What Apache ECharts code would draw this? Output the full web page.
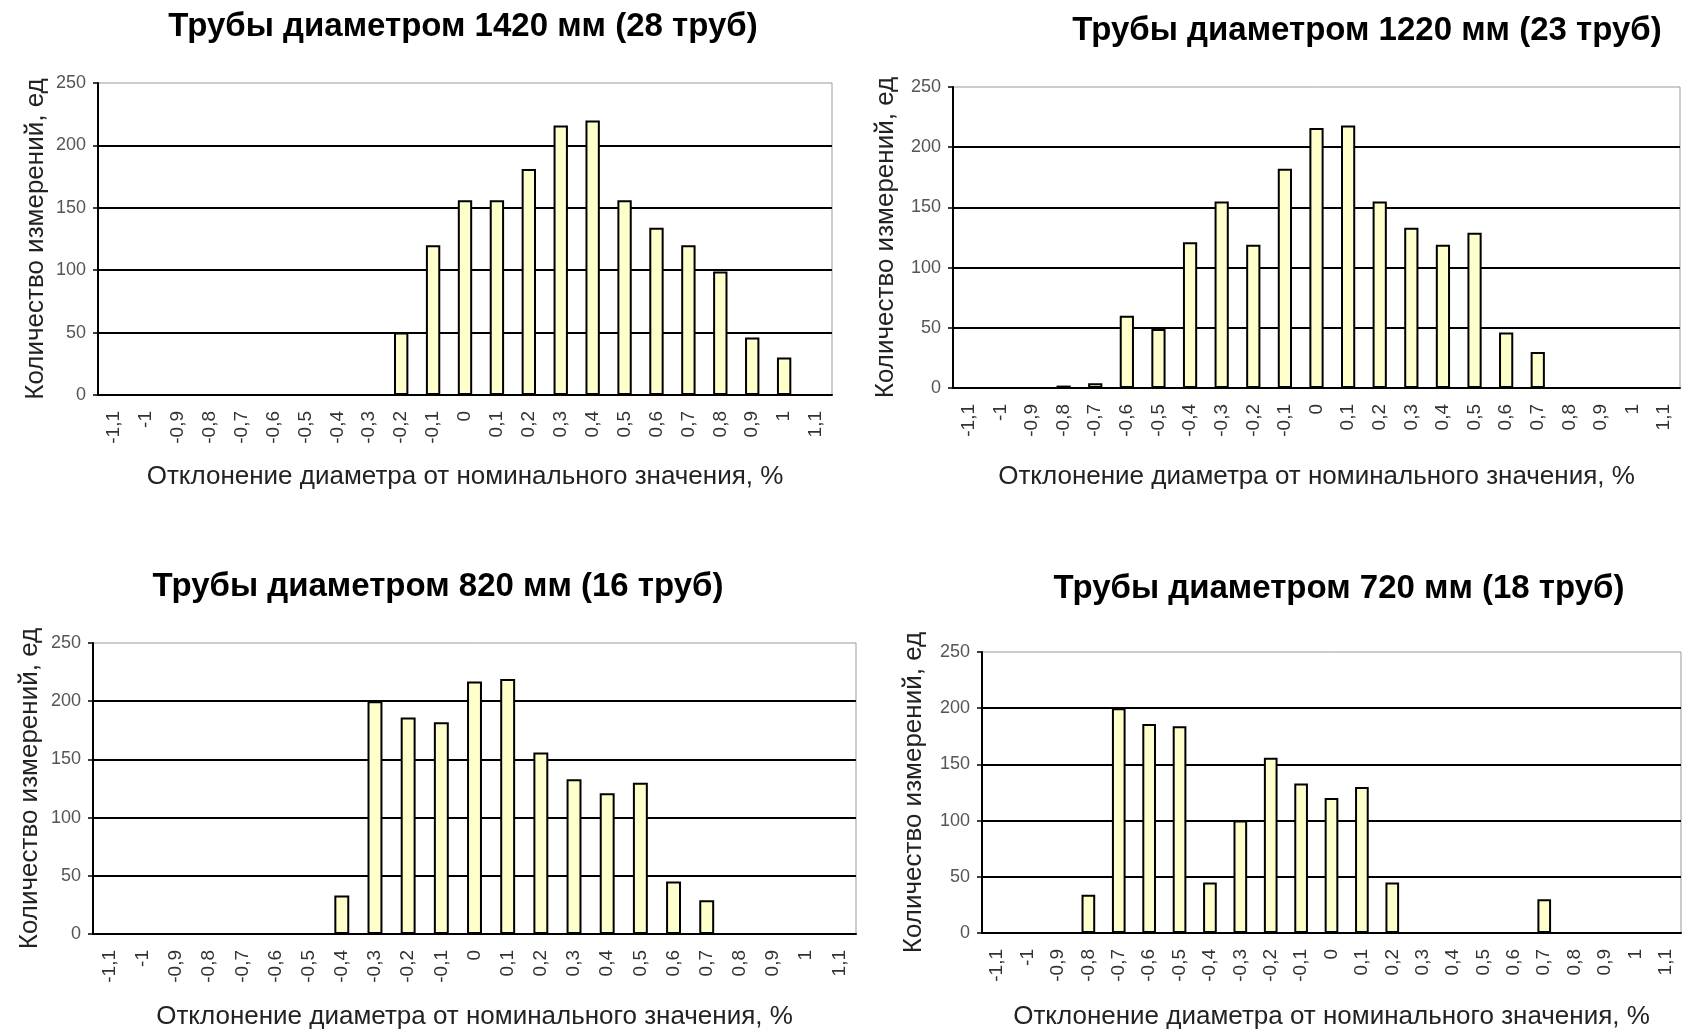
<!DOCTYPE html>
<html>
<head>
<meta charset="utf-8">
<title>Отклонение диаметра труб</title>
<script src="https://cdn.jsdelivr.net/npm/echarts@6/dist/echarts.min.js"></script>
<style>
  html, body { margin: 0; padding: 0; background: #fff; }
  #chart { width: 1688px; height: 1036px; }
</style>
</head>
<body>
<div id="chart"></div>
<script>
// отклонение, % (подписи оси X)
var categories = ['-1,1', '-1', '-0,9', '-0,8', '-0,7', '-0,6', '-0,5', '-0,4', '-0,3', '-0,2', '-0,1',
    '0', '0,1', '0,2', '0,3', '0,4', '0,5', '0,6', '0,7', '0,8', '0,9', '1', '1,1'];

var yMin = 0, yMax = 250, yStep = 50;

var chartTitles = [
    'Трубы диаметром 1420 мм (28 труб)',
    'Трубы диаметром 1220 мм (23 труб)',
    'Трубы диаметром 820 мм (16 труб)',
    'Трубы диаметром 720 мм (18 труб)'
];
var xName = 'Отклонение диаметра от номинального значения, %';
var yName = 'Количество измерений, ед';

// количество измерений по каждой группе труб
var pipes1420 = [0, 0, 0, 0, 0, 0, 0, 0, 0, 50, 120, 156, 156, 181, 216, 220, 156, 134, 120, 99, 46, 30, 0];
var pipes1220 = [0, 0, 0, 2, 4, 60, 49, 121, 155, 119, 182, 216, 218, 155, 133, 119, 129, 46, 30, 0, 0, 0, 0];
var pipes820  = [0, 0, 0, 0, 0, 0, 0, 33, 200, 186, 182, 217, 219, 156, 133, 121, 130, 45, 29, 0, 0, 0, 0];
var pipes720  = [0, 0, 0, 34, 200, 186, 184, 45, 100, 156, 133, 120, 130, 45, 0, 0, 0, 0, 30, 0, 0, 0, 0];

var seriesData = [pipes1420, pipes1220, pipes820, pipes720];

/* раскладка: 4 графика на одном холсте */
var boxes = [
    { left: 98,  top: 83,  width: 734, height: 312, title: [458, 5],    yGap: 49, xGap: 69 },
    { left: 953, top: 87,  width: 727, height: 301, title: [1362, 9],   yGap: 54, xGap: 76 },
    { left: 93,  top: 643, width: 763, height: 291, title: [433, 565],  yGap: 50, xGap: 70 },
    { left: 982, top: 652, width: 699, height: 281, title: [1334, 567], yGap: 55, xGap: 71 }
];

function initCharts() {
    var chart = echarts.init(document.getElementById('chart'));
    var title = [], grid = [], xAxis = [], yAxis = [], series = [];

    boxes.forEach(function (b, i) {
        title.push({
            text: chartTitles[i],
            left: b.title[0],
            top: b.title[1],
            textAlign: 'center',
            textStyle: { fontFamily: 'Liberation Sans', fontWeight: 'bold', fontSize: 33, color: '#000' }
        });
        grid.push({
            left: b.left, top: b.top, width: b.width, height: b.height,
            show: true, borderColor: '#999', borderWidth: 1, backgroundColor: '#fff'
        });
        xAxis.push({
            type: 'category',
            gridIndex: i,
            data: categories,
            name: xName,
            nameLocation: 'middle',
            nameGap: b.xGap,
            nameTextStyle: { fontFamily: 'Liberation Sans', fontSize: 26, color: '#222' },
            axisLine: { lineStyle: { color: '#000', width: 2 } },
            axisTick: { length: 8, lineStyle: { color: '#000', width: 2 } },
            axisLabel: {
                rotate: 90, interval: 0, margin: 16,
                fontFamily: 'Liberation Sans', fontSize: 19, color: '#333'
            },
            splitLine: { show: false }
        });
        yAxis.push({
            type: 'value',
            gridIndex: i,
            min: yMin, max: yMax, interval: yStep,
            name: yName,
            nameLocation: 'middle',
            nameGap: b.yGap,
            nameTextStyle: { fontFamily: 'Liberation Sans', fontSize: 26, color: '#222' },
            axisLine: { show: true, lineStyle: { color: '#000', width: 2 } },
            axisTick: { show: true, length: 5, lineStyle: { color: '#000', width: 1.5 } },
            axisLabel: {
                margin: 12,
                fontFamily: "'Liberation Sans Narrow', 'Liberation Sans', sans-serif",
                fontSize: 18, color: '#555'
            },
            splitLine: { show: true, showMaxLine: false, lineStyle: { color: '#000', width: 2 } }
        });
        series.push({
            type: 'bar',
            xAxisIndex: i,
            yAxisIndex: i,
            data: seriesData[i],
            barWidth: '45%',
            itemStyle: { color: '#ffffcc', borderColor: '#000', borderWidth: 2 },
            animation: false
        });
    });

    chart.setOption({
        animation: false,
        title: title,
        grid: grid,
        xAxis: xAxis,
        yAxis: yAxis,
        series: series
    });
}

initCharts();
</script>
</body>
</html>
